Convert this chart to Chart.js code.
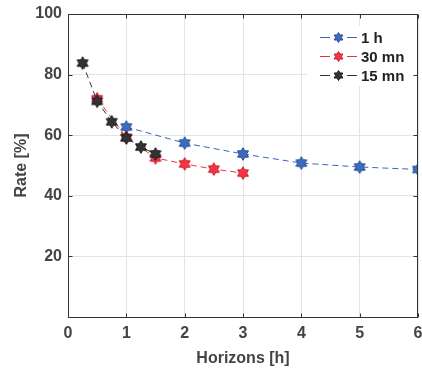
<!DOCTYPE html>
<html lang="en">
<head>
    <meta charset="UTF-8">
    <title>Rate vs Horizons</title>
    <style>
        html, body { margin: 0; padding: 0; background: #fff; }
        #wrap { width: 422px; height: 372px; }
    </style>
</head>
<body>
    <div id="wrap"><canvas id="grafico" width="422" height="372"></canvas></div>

    <script src="https://cdn.jsdelivr.net/npm/chart.js"></script>
    <script>
        // data
        const horizons1h = [1, 2, 3, 4, 5, 6];
        const rate1h = [62.7, 57.4, 53.8, 50.8, 49.5, 48.7];
        const horizons30 = [0.5, 1, 1.5, 2, 2.5, 3];
        const rate30 = [72.0, 59.3, 52.5, 50.5, 48.8, 47.5];
        const horizons15 = [0.25, 0.5, 0.75, 1, 1.25, 1.5];
        const rate15 = [83.8, 71.2, 64.4, 59.1, 56.1, 53.8];
        const seriesNames = ['1 h', '30 mn', '15 mn'];
        const xTicks = [0, 1, 2, 3, 4, 5, 6];
        const yTicks = [20, 40, 60, 80, 100];

        const textColor = '#444';
        const fontFam = '"Liberation Sans", Arial, sans-serif';

        // six-pointed star marker
        function hexagram(fill, stroke, r) {
            const s = Math.ceil(r * 2 + 3), c = document.createElement('canvas');
            c.width = s; c.height = s;
            const g = c.getContext('2d');
            const cx = s / 2, cy = s / 2;
            g.beginPath();
            for (let i = 0; i < 12; i++) {
                const a = -Math.PI / 2 + i * Math.PI / 6;
                const rr = (i % 2 === 0) ? r : r * 0.58;
                const px = cx + rr * Math.cos(a), py = cy + rr * Math.sin(a);
                if (i === 0) g.moveTo(px, py); else g.lineTo(px, py);
            }
            g.closePath();
            g.fillStyle = fill;
            g.fill();
            g.strokeStyle = stroke;
            g.lineWidth = 1;
            g.stroke();
            return c;
        }

        function pts(xs, ys) {
            return xs.map((x, i) => ({ x: x, y: ys[i] }));
        }

        const colors = [
            { line: '#3a64b8', fill: '#3a6cc4', edge: '#2a4c90' },
            { line: '#f03040', fill: '#f43440', edge: '#c82030' },
            { line: '#333333', fill: '#333333', edge: '#1a1a1a' }
        ];
        const dataSets = [pts(horizons1h, rate1h), pts(horizons30, rate30), pts(horizons15, rate15)];

        // the marker image keeps its own size; a tiny radius stops the
        // line controller from reserving extra room round the plot
        const datasets = dataSets.map((d, i) => ({
            label: seriesNames[i],
            data: d,
            order: 3 - i,
            borderColor: colors[i].line,
            borderWidth: 1,
            borderDash: [6, 4],
            pointStyle: hexagram(colors[i].fill, colors[i].edge, 6.3),
            legendMarker: hexagram(colors[i].fill, colors[i].edge, 5.0),
            pointRadius: 0.5,
            pointBorderWidth: 0,
            fill: false,
            tension: 0
        }));

        // box, inner ticks and legend
        const boxPlugin = {
            id: 'box',
            afterDatasetsDraw(chart) {
                const { ctx, chartArea: a, scales } = chart;
                ctx.save();

                // legend background
                ctx.fillStyle = '#fff';
                ctx.fillRect(307, 26, 109, 60);

                ctx.strokeStyle = '#333';
                ctx.lineWidth = 1;
                const L = Math.round(a.left) + 0.5, R = Math.round(a.right) - 0.5;
                const T = Math.round(a.top) + 0.5, B = Math.round(a.bottom) + 0.5;
                ctx.strokeRect(L, T, R - L, B - T);
                ctx.beginPath();
                xTicks.forEach(v => {
                    const px = Math.round(scales.x.getPixelForValue(v)) + 0.5;
                    ctx.moveTo(px, B); ctx.lineTo(px, B - 4);
                    ctx.moveTo(px, T); ctx.lineTo(px, T + 4);
                });
                yTicks.forEach(v => {
                    const py = Math.round(scales.y.getPixelForValue(v)) + 0.5;
                    ctx.moveTo(L, py); ctx.lineTo(L + 4, py);
                    ctx.moveTo(R, py); ctx.lineTo(R - 4, py);
                });
                ctx.stroke();

                // legend
                ctx.font = 'bold 15px ' + fontFam;
                ctx.textBaseline = 'middle';
                chart.data.datasets.forEach((ds, i) => {
                    const y = Math.round(37 + i * 19) + 0.5;
                    ctx.strokeStyle = ds.borderColor;
                    ctx.beginPath();
                    ctx.moveTo(320, y); ctx.lineTo(330, y);
                    ctx.moveTo(347, y); ctx.lineTo(357, y);
                    ctx.stroke();
                    const m = ds.legendMarker;
                    ctx.drawImage(m, 338.5 - m.width / 2, y - m.height / 2);
                    ctx.fillStyle = '#222';
                    ctx.fillText(ds.label, 361, y + 1);
                });
                ctx.restore();
            }
        };

        new Chart(document.getElementById('grafico'), {
            type: 'line',
            data: { datasets: datasets },
            plugins: [boxPlugin],
            options: {
                responsive: false,
                animation: false,
                layout: { padding: { top: 14, right: 2, left: 0, bottom: 4 } },
                plugins: { legend: { display: false }, tooltip: { enabled: false } },
                scales: {
                    x: {
                        type: 'linear',
                        min: 0, max: 6,
                        afterBuildTicks(scale) { scale.ticks = xTicks.map(v => ({ value: v })); },
                        afterFit(scale) {
                            scale.height = 51;
                            scale.paddingLeft = 0;
                            scale.paddingRight = 0;
                        },
                        grid: { color: '#e4e4e4', drawTicks: false },
                        border: { display: false },
                        ticks: {
                            color: textColor,
                            padding: 7,
                            maxRotation: 0,
                            font: { family: fontFam, size: 16, weight: 'bold' }
                        },
                        title: {
                            display: true,
                            text: 'Horizons [h]',
                            color: textColor,
                            padding: { top: 2, bottom: 0 },
                            font: { family: fontFam, size: 16, weight: 'bold' }
                        }
                    },
                    y: {
                        min: 0, max: 100,
                        afterBuildTicks(scale) { scale.ticks = yTicks.map(v => ({ value: v })); },
                        afterFit(scale) {
                            scale.width = 68;
                            scale.paddingTop = 0;
                            scale.paddingBottom = 0;
                        },
                        grid: { color: '#e4e4e4', drawTicks: false },
                        border: { display: false },
                        ticks: {
                            color: textColor,
                            padding: 6,
                            font: { family: fontFam, size: 16, weight: 'bold' }
                        },
                        title: {
                            display: true,
                            text: 'Rate [%]',
                            color: textColor,
                            padding: { top: 12, bottom: 0 },
                            font: { family: fontFam, size: 16, weight: 'bold' }
                        }
                    }
                }
            }
        });
    </script>
</body>
</html>
